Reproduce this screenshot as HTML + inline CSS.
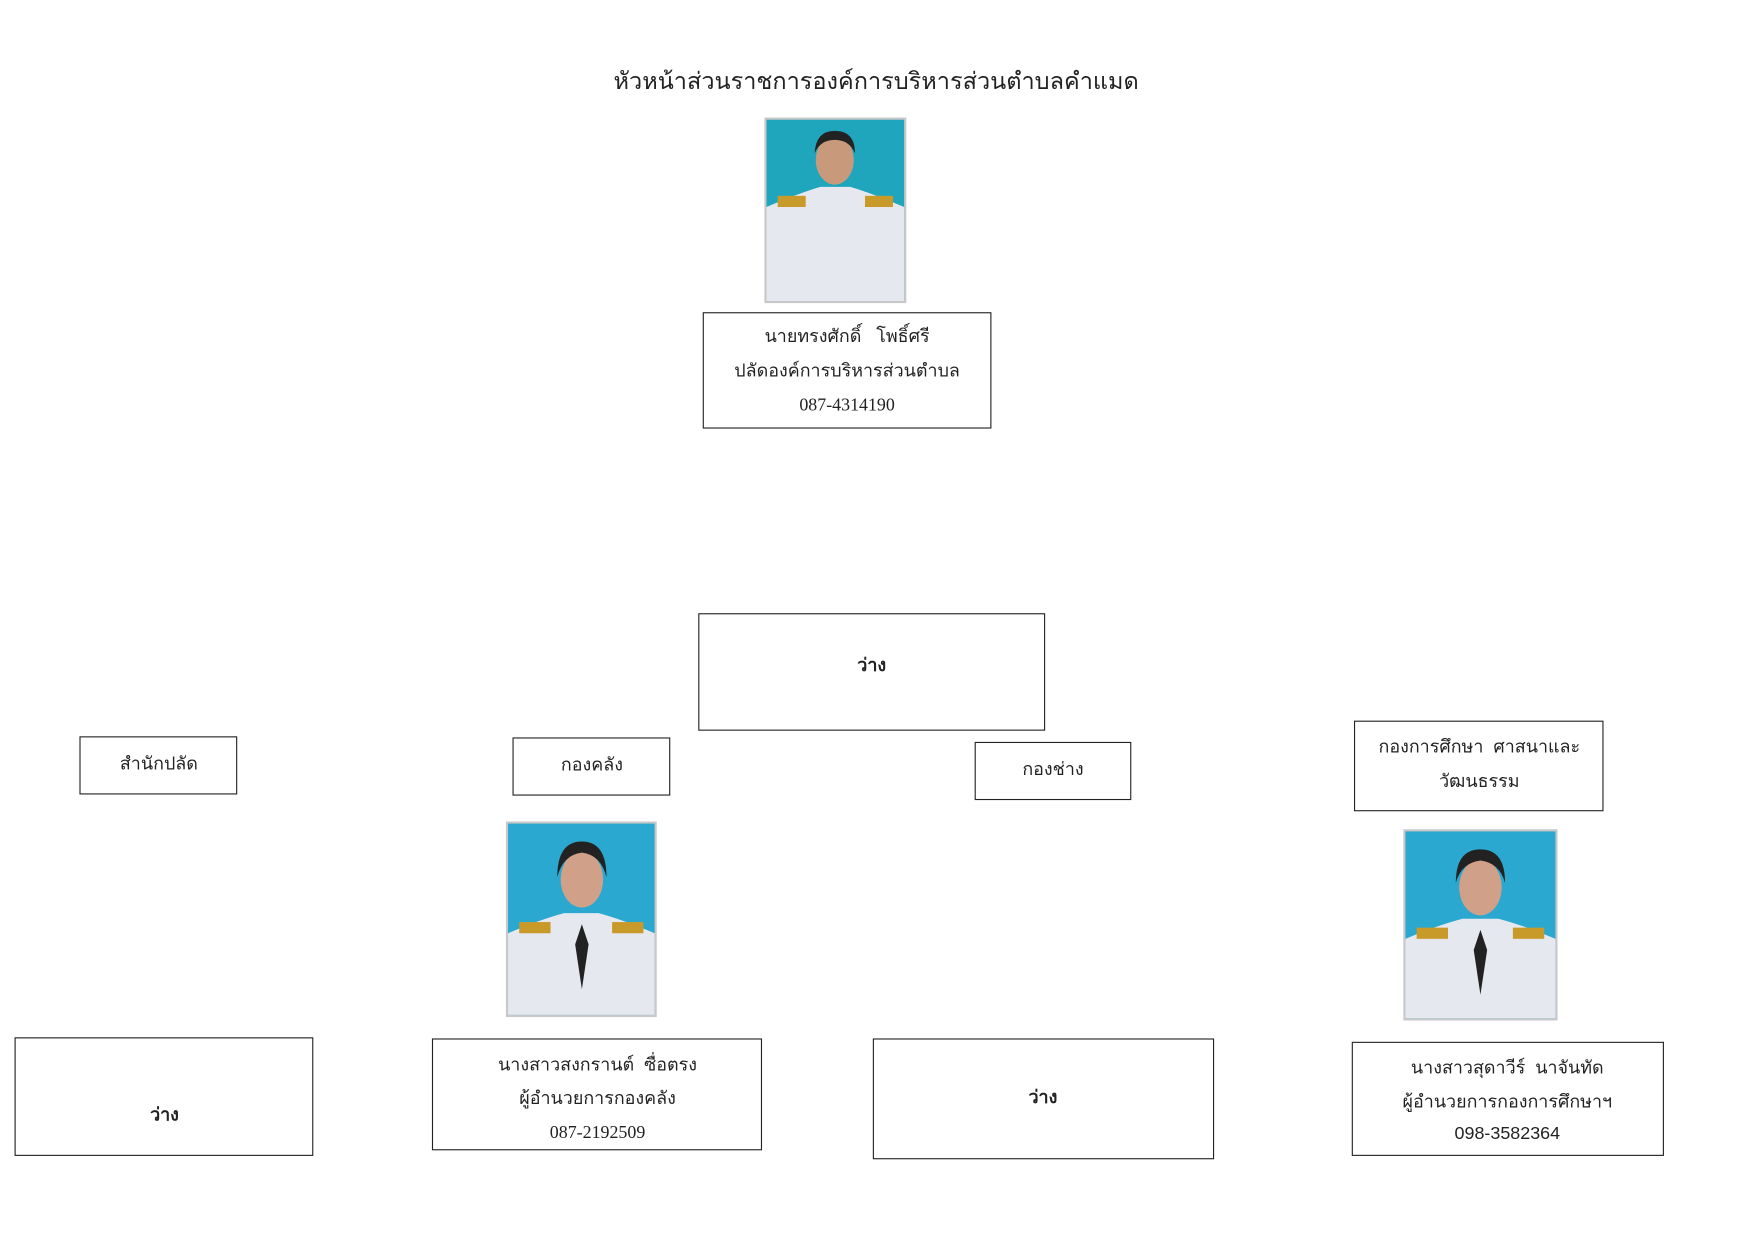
<!DOCTYPE html>
<html><head><meta charset="utf-8"><style>
html,body{margin:0;padding:0;background:#fff;width:1754px;height:1241px;overflow:hidden}
#w{position:absolute;left:0;top:0;width:1570px;height:1110px;transform:scale(1.119);transform-origin:0 0}
.t{position:absolute;font-family:"Liberation Sans","Noto Sans CJK SC",sans-serif;color:#222;white-space:nowrap;transform:translate(-50%,-50%);font-size:16px}
.s{font-family:"Liberation Serif",serif;font-size:16px}
.b{font-weight:bold}
.bx{position:absolute;border:1.5px solid #222;box-sizing:border-box}
svg{position:absolute}
</style></head><body><div id="w">
<div class="t" style="left:783px;top:73px;font-size:21px">หัวหน้าส่วนราชการองค์การบริหารส่วนตำบลคำแมด</div>

<svg style="left:683px;top:105px" width="127" height="166" viewBox="0 0 127 166">
<rect width="127" height="166" fill="#c8c8c8"/><rect x="2" y="2" width="123" height="162" fill="#1fa6bd"/>
<path d="M2 80 Q30 68 50 62 L77 62 Q97 68 125 80 L125 164 L2 164Z" fill="#e6e8ef"/>
<ellipse cx="63" cy="38" rx="17" ry="22" fill="#c9997c"/><path d="M45 32 Q46 12 63 12 Q81 12 81 32 Q76 20 63 20 Q50 20 45 32Z" fill="#222"/>
<rect x="12" y="70" width="25" height="10" fill="#c89a2a"/><rect x="90" y="70" width="25" height="10" fill="#c89a2a"/>
</svg>
<div class="bx" style="left:628px;top:279px;width:258px;height:104px"></div>
<div class="t" style="left:757px;top:301px">นายทรงศักดิ์&nbsp;&nbsp;&nbsp;โพธิ์ศรี</div>
<div class="t" style="left:757px;top:332px">ปลัดองค์การบริหารส่วนตำบล</div>
<div class="t s" style="left:757px;top:363px">087-4314190</div>

<div class="bx" style="left:624px;top:548px;width:310px;height:105px"></div>
<div class="t b" style="left:779px;top:595px">ว่าง</div>

<div class="bx" style="left:71px;top:658px;width:141px;height:52px"></div>
<div class="t" style="left:142px;top:683px">สำนักปลัด</div>
<div class="bx" style="left:458px;top:659px;width:141px;height:52px"></div>
<div class="t" style="left:529px;top:684px">กองคลัง</div>
<div class="bx" style="left:871px;top:663px;width:140px;height:52px"></div>
<div class="t" style="left:941px;top:688px">กองช่าง</div>
<div class="bx" style="left:1210px;top:644px;width:223px;height:81px"></div>
<div class="t" style="left:1322px;top:668px">กองการศึกษา&nbsp;&nbsp;ศาสนาและ</div>
<div class="t" style="left:1322px;top:699px">วัฒนธรรม</div>

<svg style="left:452px;top:734px" width="135" height="175" viewBox="0 0 135 175">
<rect width="135" height="175" fill="#c8c8c8"/><rect x="2" y="2" width="131" height="171" fill="#2aa8cf"/>
<path d="M2 100 Q30 88 52 82 L83 82 Q105 88 133 100 L133 173 L2 173Z" fill="#e6e8ef"/>
<path d="M62 110 L68 92 L74 110 L68 150Z" fill="#222"/>
<ellipse cx="68" cy="52" rx="19" ry="25" fill="#d0a088"/><path d="M46 50 Q46 18 68 18 Q90 18 90 50 Q85 30 68 28 Q51 30 46 50Z" fill="#222"/>
<rect x="12" y="90" width="28" height="10" fill="#c89a2a"/><rect x="95" y="90" width="28" height="10" fill="#c89a2a"/>
</svg>
<svg style="left:1254px;top:741px" width="138" height="171" viewBox="0 0 138 171">
<rect width="138" height="171" fill="#c8c8c8"/><rect x="2" y="2" width="134" height="167" fill="#2aa8cf"/>
<path d="M2 98 Q30 86 53 80 L85 80 Q108 86 136 98 L136 169 L2 169Z" fill="#e6e8ef"/>
<path d="M63 108 L69 90 L75 108 L69 148Z" fill="#222"/>
<ellipse cx="69" cy="52" rx="19" ry="25" fill="#d0a088"/><path d="M47 48 Q47 18 69 18 Q91 18 91 48 Q86 30 69 28 Q52 30 47 48Z" fill="#222"/>
<rect x="12" y="88" width="28" height="10" fill="#c89a2a"/><rect x="98" y="88" width="28" height="10" fill="#c89a2a"/>
</svg>

<div class="bx" style="left:13px;top:927px;width:267px;height:106px"></div>
<div class="t b" style="left:147px;top:997px">ว่าง</div>
<div class="bx" style="left:386px;top:928px;width:295px;height:100px"></div>
<div class="t" style="left:534px;top:952px">นางสาวสงกรานต์&nbsp;&nbsp;ซื่อตรง</div>
<div class="t" style="left:534px;top:982px">ผู้อำนวยการกองคลัง</div>
<div class="t s" style="left:534px;top:1013px">087-2192509</div>
<div class="bx" style="left:780px;top:928px;width:305px;height:108px"></div>
<div class="t b" style="left:932px;top:981px">ว่าง</div>
<div class="bx" style="left:1208px;top:931px;width:279px;height:102px"></div>
<div class="t" style="left:1347px;top:955px">นางสาวสุดาวีร์&nbsp;&nbsp;นาจันทัด</div>
<div class="t" style="left:1347px;top:985px">ผู้อำนวยการกองการศึกษาฯ</div>
<div class="t" style="left:1347px;top:1014px">098-3582364</div>
</div></body></html>
